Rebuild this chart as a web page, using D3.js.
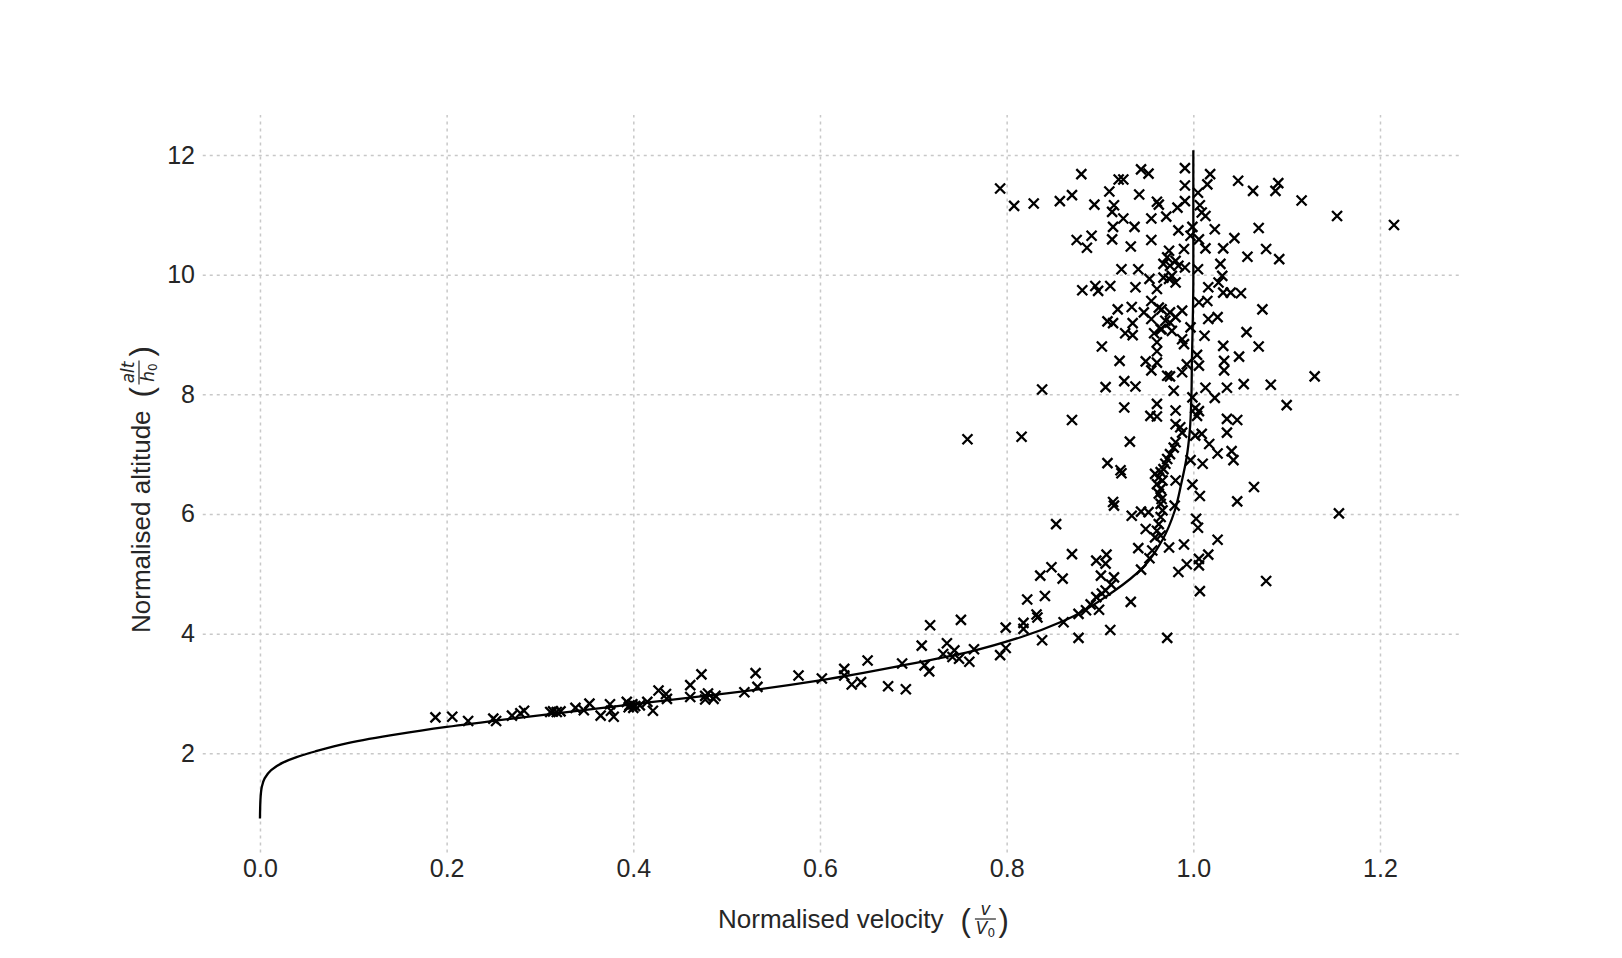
<!DOCTYPE html>
<meta charset="utf-8">

<!-- Load d3.js -->
<script src="https://d3js.org/d3.v7.min.js"></script>

<style>
  body { margin: 0; background: #ffffff; }
  text { font-family: "Liberation Sans", Arial, sans-serif; fill: #262626; }
  .math { font-family: "DejaVu Sans", sans-serif; font-style: italic; }
</style>

<div id="my_dataviz"></div>
<script>

// tick values
var xTicks = [0.0, 0.2, 0.4, 0.6, 0.8, 1.0, 1.2]
var yTicks = [2, 4, 6, 8, 10, 12]

// model curve (velocity, altitude)
var modelV = [0.000, 0.0005, 0.002, 0.005, 0.012, 0.024, 0.040, 0.059, 0.094, 0.148, 0.200, 0.286, 0.400, 0.500, 0.600, 0.689, 0.761, 0.815, 0.862, 0.914, 0.947, 0.967, 0.980, 0.987, 0.993, 0.996, 0.998, 0.9985, 0.9995, 1.000, 1.000, 1.000]
var modelH = [0.91, 1.22, 1.44, 1.58, 1.72, 1.84, 1.94, 2.03, 2.17, 2.32, 2.44, 2.61, 2.82, 3.00, 3.22, 3.47, 3.70, 3.94, 4.22, 4.70, 5.12, 5.57, 6.05, 6.50, 6.96, 7.35, 8.00, 8.57, 9.30, 9.91, 11.00, 12.08]

// observations [velocity, altitude]
var obsLow = [[0.188,2.60],[0.206,2.61],[0.223,2.54],[0.250,2.58],[0.253,2.54],[0.270,2.63],[0.279,2.67],[0.283,2.71],[0.311,2.69],[0.314,2.70],[0.318,2.69],[0.322,2.70],[0.338,2.76],[0.347,2.72],[0.353,2.83],[0.365,2.63],[0.375,2.82],[0.376,2.71],[0.379,2.61],[0.393,2.86],[0.395,2.77],[0.396,2.80],[0.399,2.82],[0.400,2.76],[0.402,2.79],[0.407,2.80],[0.415,2.86],[0.421,2.71],[0.427,3.05],[0.435,2.99],[0.436,2.91],[0.461,3.14],[0.461,2.94],[0.473,3.32],[0.477,2.96],[0.477,2.90],[0.480,3.00],[0.486,2.91],[0.488,2.96],
  [0.519,3.02],[0.531,3.34],[0.533,3.11],[0.577,3.30],[0.602,3.25],[0.626,3.41],[0.626,3.30],[0.634,3.15],[0.644,3.19],[0.651,3.55],[0.673,3.12],[0.688,3.50],[0.692,3.07],[0.709,3.80],[0.712,3.47],[0.717,3.37],[0.718,4.14],[0.732,3.66],[0.736,3.84],[0.742,3.61],[0.744,3.72],[0.749,3.58],[0.751,4.23],[0.760,3.53],[0.765,3.74],[0.793,3.64],[0.799,3.76],[0.799,4.10]]

var obsMid = [[0.816,7.29],[0.932,7.21],[0.908,6.85],[0.922,6.73],[0.923,6.68],[0.914,6.20],[0.915,6.14],[0.853,5.83],[0.934,5.97],[0.944,6.04],[0.952,6.03],[0.949,5.75],[0.941,5.43],[0.956,5.39],[0.974,5.44],[0.953,5.26],[0.944,5.07],[0.870,5.33],[0.896,5.22],[0.907,5.32],[0.906,5.17],[0.901,4.97],[0.915,4.94],[0.912,4.82],[0.906,4.72],[0.902,4.67],[0.896,4.61],[0.890,4.49],[0.885,4.39],[0.899,4.40],[0.877,4.33],[0.848,5.11],[0.836,4.97],[0.860,4.92],[0.822,4.57],[0.841,4.63],[0.832,4.32],[0.833,4.27],[0.818,4.18],[0.818,4.08],[0.861,4.19],[0.933,4.53],[0.911,4.06],[0.838,3.89],[0.877,3.93],[0.972,3.93],
  [0.981,7.20],[0.979,7.11],[0.975,7.00],[0.972,6.92],[0.970,6.84],[0.968,6.75],[0.965,6.70],[0.959,6.67],[0.963,6.61],[0.967,6.56],[0.961,6.50],[0.965,6.42],[0.963,6.34],[0.966,6.25],[0.965,6.17],[0.967,6.06],[0.965,5.95],[0.963,5.83],[0.961,5.72],[0.965,5.64],[0.959,5.61],[0.981,6.56],[0.980,6.14],
  [0.988,7.36],[1.002,7.31],[1.009,7.34],[1.036,7.36],[1.017,7.17],[1.026,7.01],[1.041,7.05],[1.043,6.90],[0.997,6.90],[1.010,6.84],[0.999,6.49],[1.007,6.30],[1.065,6.45],[1.047,6.21],[1.156,6.01],[1.003,5.92],[1.005,5.77],[1.026,5.57],[0.990,5.49],[1.016,5.32],[1.006,5.25],[0.993,5.16],[0.984,5.03],[1.006,5.14],[1.078,4.88],[1.007,4.71],
  [0.758,7.25]]

var obsHigh = [[0.898,9.73],[0.961,9.76],[0.955,9.56],[0.963,9.45],[0.919,9.42],[0.934,9.46],[0.947,9.37],[0.975,9.37],[0.981,9.29],[0.908,9.22],[0.914,9.19],[0.935,9.19],[0.955,9.26],[0.970,9.23],[0.965,9.09],[0.977,9.06],[0.927,9.02],[0.935,8.99],[0.958,9.02],[0.961,8.87],[0.902,8.80],[0.961,8.72],[0.921,8.56],[0.949,8.55],[0.961,8.53],[0.955,8.40],[0.972,8.31],[0.975,8.30],[0.926,8.22],[0.938,8.13],[0.906,8.12],[0.979,8.06],[0.838,8.08],[0.926,7.78],[0.961,7.84],[0.954,7.64],[0.961,7.63],[0.981,7.73],[0.981,7.50],[0.870,7.57],
  [1.032,9.70],[1.040,9.70],[1.051,9.69],[1.006,9.54],[1.015,9.56],[1.074,9.42],[0.966,9.42],[0.988,9.40],[0.975,9.20],[1.016,9.26],[1.026,9.29],[0.966,9.09],[0.997,9.12],[1.012,8.98],[1.057,9.04],[0.988,8.92],[0.990,8.84],[1.032,8.81],[1.070,8.80],[1.004,8.66],[1.049,8.63],[1.033,8.56],[1.006,8.48],[0.993,8.50],[1.033,8.40],[0.988,8.37],[1.130,8.30],[1.013,8.11],[1.036,8.11],[1.054,8.17],[1.083,8.16],[1.023,7.94],[0.999,7.95],[1.002,7.77],[1.006,7.72],[1.004,7.64],[1.100,7.82],[1.036,7.59],[1.047,7.57],[0.986,7.45],
  [0.793,11.44],[0.808,11.15],[0.829,11.19],[0.857,11.23],[0.870,11.33],[0.880,11.68],[0.894,11.17],[0.910,11.39],[0.915,11.16],[0.913,11.05],[0.920,11.59],[0.925,11.59],[0.925,10.94],[0.942,11.34],[0.944,11.76],[0.952,11.69],[0.937,10.80],[0.914,10.80],[0.955,10.94],[0.961,11.22],[0.963,11.17],[0.971,10.97],[0.984,10.74],[0.875,10.58],[0.891,10.65],[0.886,10.45],[0.913,10.59],[0.933,10.47],[0.955,10.58],[0.974,10.40],[0.972,10.29],[0.968,10.18],[0.975,10.15],[0.981,10.23],[0.923,10.09],[0.941,10.09],[0.953,9.93],[0.968,9.95],[0.974,9.93],[0.977,9.98],[0.881,9.74],[0.895,9.81],[0.911,9.81],[0.938,9.79],
  [0.991,11.78],[1.018,11.68],[0.991,11.49],[1.015,11.51],[1.005,11.37],[1.048,11.57],[1.064,11.40],[1.088,11.40],[1.091,11.53],[1.116,11.24],[1.154,10.98],[1.215,10.83],[0.991,11.23],[0.983,11.12],[1.007,11.16],[1.009,11.04],[1.013,10.98],[1.023,10.76],[0.999,10.80],[0.997,10.65],[1.006,10.59],[1.044,10.61],[1.070,10.78],[1.032,10.44],[1.013,10.44],[0.990,10.43],[1.058,10.30],[1.078,10.43],[1.092,10.26],[0.984,10.15],[0.991,10.12],[1.005,10.09],[1.029,10.18],[1.031,9.98],[0.981,9.87],[1.016,9.79],[1.027,9.87]]

// set the dimensions and margins of the graph
var width = 1622
    height = 958
    margin = {top: 115, right: 162.2, bottom: 105.4, left: 202.75}

var svg = d3.select("#my_dataviz")
  .append("svg")
    .attr("width", width)
    .attr("height", height)

// scales
var x = d3.scaleLinear()
  .domain([-0.0613, 1.2855])
  .range([margin.left, width - margin.right])

var y = d3.scaleLinear()
  .domain([0.34, 12.669])
  .range([height - margin.bottom, margin.top])

var plotW = width - margin.right - margin.left
var plotH = height - margin.bottom - margin.top

// x axis with dotted grid
var gx = svg.append("g")
  .attr("transform", "translate(0," + (height - margin.bottom) + ")")
  .call(d3.axisBottom(x)
    .tickValues(xTicks)
    .tickFormat(d3.format(".1f"))
    .tickSize(-plotH)
    .tickPadding(7))
  .attr("font-size", 25)
gx.select(".domain").remove()

// y axis with dotted grid
var gy = svg.append("g")
  .attr("transform", "translate(" + margin.left + ",0)")
  .call(d3.axisLeft(y)
    .tickValues(yTicks)
    .tickFormat(d3.format("d"))
    .tickSize(-plotW)
    .tickPadding(7.75))
  .attr("font-size", 25)
gy.select(".domain").remove()

svg.selectAll(".tick line")
  .attr("stroke", "#c8c8c8")
  .attr("stroke-width", 1.5)
  .attr("stroke-dasharray", "3,4")

// model curve
var line = d3.line()
  .x(function(d) { return x(d[0]) })
  .y(function(d) { return y(d[1]) })
  .curve(d3.curveMonotoneY)

svg.append("path")
  .datum(d3.zip(modelV, modelH))
  .attr("d", line)
  .attr("fill", "none")
  .attr("stroke", "#000000")
  .attr("stroke-width", 2.3)

// x markers for the observations
var observed = obsLow.concat(obsMid, obsHigh)
var s = 5
svg.append("g")
  .selectAll("path")
  .data(observed)
  .enter()
  .append("path")
    .attr("transform", function(d) { return "translate(" + x(d[0]) + "," + y(d[1]) + ")" })
    .attr("d", "M" + (-s) + "," + (-s) + "L" + s + "," + s + "M" + (-s) + "," + s + "L" + s + "," + (-s))
    .attr("stroke", "#000000")
    .attr("stroke-width", 2.3)
    .attr("fill", "none")

// axis label with a small fraction: "Normalised velocity  (v / V0)"
function fracLabel(g, main, num, den, o) {
  var t = g.append("text").attr("font-size", 26).text(main)
  var w = t.node().getComputedTextLength()
  g.append("text").attr("font-size", 31).attr("font-weight", 300).attr("x", w + o.lp).attr("y", o.pb).text("(")
  g.append("text").attr("class", "math").attr("font-size", 17)
    .attr("text-anchor", "middle").attr("x", w + o.fc).attr("y", o.nb).text(num)
  g.append("line")
    .attr("x1", w + o.fc - o.fw / 2).attr("x2", w + o.fc + o.fw / 2)
    .attr("y1", o.bar).attr("y2", o.bar)
    .attr("stroke", "#262626").attr("stroke-width", 1.2)
  var d = g.append("text").attr("class", "math").attr("font-size", 17)
    .attr("text-anchor", "middle").attr("x", w + o.fc).attr("y", o.db)
  d.append("tspan").text(den)
  d.append("tspan").attr("font-size", 12).attr("font-style", "normal").attr("dy", 3).text("0")
  g.append("text").attr("font-size", 31).attr("font-weight", 300).attr("x", w + o.rp).attr("y", o.pb).text(")")
}

fracLabel(svg.append("g").attr("transform", "translate(718,928)"),
  "Normalised velocity", "v", "V",
  {lp: 17, rp: 55, fc: 42, fw: 21, nb: -13, bar: -9, db: 6, pb: 3})

fracLabel(svg.append("g").attr("transform", "translate(150,633) rotate(-90)"),
  "Normalised altitude", "alt", "h",
  {lp: 13, rp: 54, fc: 38, fw: 24, nb: -16, bar: -11, db: 4, pb: 2})

</script>
